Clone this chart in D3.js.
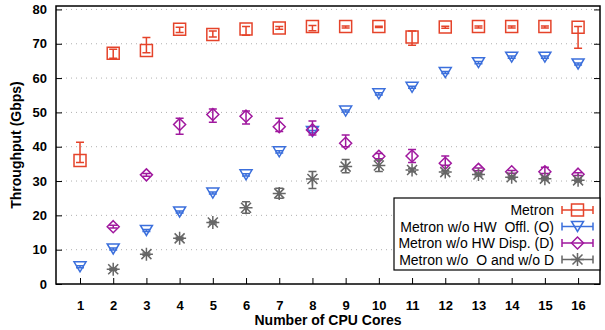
<!DOCTYPE html>
<html>
<head>
<meta charset="utf-8">
<script src="https://cdn.jsdelivr.net/npm/d3@7"></script>
<style>
  html, body { margin: 0; padding: 0; background: #fff; }
  svg { display: block; font-family: "Liberation Sans", Arial, Helvetica, sans-serif; }
  text { white-space: pre; }
</style>
</head>
<body>
<svg id="chart" width="605" height="330"></svg>
<script>
const cores = [1, 2, 3, 4, 5, 6, 7, 8, 9, 10, 11, 12, 13, 14, 15, 16];
const yTicks = [0, 10, 20, 30, 40, 50, 60, 70, 80];

const metron     = [36.0, 67.2, 68.0, 74.2, 72.7, 74.3, 74.6, 75.0, 75.0, 75.0, 72.0, 74.9, 75.0, 75.0, 75.0, 74.8];
const metronLow  = [35.4, 65.8, 67.4, 73.3, 72.0, 72.5, 74.2, 73.8, 74.6, 74.7, 69.6, 74.5, 74.6, 74.6, 74.6, 68.7];
const metronHigh = [41.3, 68.4, 71.8, 74.8, 73.7, 75.0, 75.0, 75.3, 75.2, 75.1, 73.7, 75.1, 75.2, 75.2, 75.2, 75.0];

const offl     = [5.0, 10.2, 15.6, 21.0, 26.5, 31.8, 38.5, 44.4, 50.4, 55.4, 57.3, 61.6, 64.5, 66.1, 66.1, 64.1];
const offlLow  = [4.7, 9.9, 15.3, 20.7, 26.2, 31.5, 38.2, 44.1, 50.1, 55.1, 57.0, 61.3, 64.2, 65.8, 65.8, 63.8];
const offlHigh = [5.3, 10.5, 15.9, 21.3, 26.8, 32.1, 38.8, 44.7, 50.7, 55.7, 57.6, 61.9, 64.8, 66.4, 66.4, 64.4];

const disp     = [null, 16.7, 31.8, 46.5, 49.4, 48.9, 45.8, 44.9, 41.0, 37.2, 37.3, 35.2, 33.4, 32.7, 32.7, 32.0];
const dispLow  = [null, 16.3, 31.4, 43.6, 47.1, 46.6, 44.4, 43.4, 40.0, 36.5, 35.4, 34.6, 33.0, 32.3, 32.2, 31.6];
const dispHigh = [null, 17.1, 32.2, 48.3, 51.0, 50.4, 48.3, 47.5, 43.4, 38.0, 39.2, 37.3, 33.8, 33.1, 34.0, 32.4];

const both     = [null, 4.3, 8.7, 13.3, 17.9, 22.2, 26.4, 30.6, 34.2, 34.5, 33.2, 32.6, 31.9, 31.1, 30.7, 30.2];
const bothLow  = [null, 4.0, 8.4, 13.0, 17.5, 20.6, 25.0, 27.8, 32.4, 32.8, 32.7, 32.2, 31.5, 30.7, 30.3, 29.8];
const bothHigh = [null, 4.6, 9.0, 13.6, 18.3, 24.0, 27.9, 32.8, 36.3, 36.1, 33.7, 33.0, 32.3, 31.5, 31.1, 30.6];

const seriesNames = ["Metron", "Metron w/o HW  Offl. (O)", "Metron w/o HW Disp. (D)", "Metron w/o  O and w/o D"];
const seriesColors = ["#e5432a", "#3b6fdc", "#a0189e", "#666666"];
const seriesMarkers = ["square", "tri", "diamond", "star"];

const series = [
  {name: seriesNames[0], color: seriesColors[0], marker: seriesMarkers[0], v: metron, lo: metronLow, hi: metronHigh},
  {name: seriesNames[1], color: seriesColors[1], marker: seriesMarkers[1], v: offl, lo: offlLow, hi: offlHigh},
  {name: seriesNames[2], color: seriesColors[2], marker: seriesMarkers[2], v: disp, lo: dispLow, hi: dispHigh},
  {name: seriesNames[3], color: seriesColors[3], marker: seriesMarkers[3], v: both, lo: bothLow, hi: bothHigh}
];

const L = 56, R = 600, T = 6, B = 284;
const svg = d3.select("#chart");

const x = d3.scaleLinear().domain([0.277, 16.66]).range([L, R]);
const y = d3.scaleLinear().domain([0, 81]).range([B, T]);

// grid
svg.append("g").selectAll("line").data(yTicks.filter(d => d > 0)).join("line")
  .attr("x1", L).attr("x2", R)
  .attr("y1", d => y(d)).attr("y2", d => y(d))
  .attr("stroke", "#b0b0b0").attr("stroke-width", 1)
  .attr("stroke-dasharray", "1,4");

// axes
const yAxisL = d3.axisLeft(y).tickValues(yTicks).tickSize(-6).tickPadding(9);
const gL = svg.append("g").attr("transform", `translate(${L},0)`).call(yAxisL);
const yAxisR = d3.axisRight(y).tickValues(yTicks).tickSize(-6).tickFormat("");
const gR = svg.append("g").attr("transform", `translate(${R},0)`).call(yAxisR);
const xAxis = d3.axisBottom(x).tickValues(cores).tickSize(-6).tickPadding(17);
const gB = svg.append("g").attr("transform", `translate(0,${B})`).call(xAxis);
[gL, gR, gB].forEach(g => {
  g.select(".domain").remove();
  g.selectAll(".tick line").attr("stroke", "#000").attr("stroke-width", 1);
  g.selectAll(".tick text").attr("font-size", 13).attr("font-weight", "bold")
    .attr("fill", "#000").attr("font-family", "Liberation Sans, Arial, sans-serif");
});

// frame
svg.append("rect").attr("x", L).attr("y", T).attr("width", R - L).attr("height", B - T)
  .attr("fill", "none").attr("stroke", "#000").attr("stroke-width", 1.5);

function markerPath(type, cx, cy) {
  const p = d3.path();
  if (type === "square") {
    p.rect(cx - 6, cy - 6, 12, 12);
  } else if (type === "tri") {
    p.moveTo(cx - 6, cy - 5); p.lineTo(cx + 6, cy - 5); p.lineTo(cx, cy + 5); p.closePath();
  } else if (type === "diamond") {
    p.moveTo(cx, cy - 6); p.lineTo(cx + 6, cy); p.lineTo(cx, cy + 6); p.lineTo(cx - 6, cy); p.closePath();
  } else {
    p.moveTo(cx - 6.5, cy); p.lineTo(cx + 6.5, cy);
    p.moveTo(cx, cy - 6.5); p.lineTo(cx, cy + 6.5);
    p.moveTo(cx - 5, cy - 5); p.lineTo(cx + 5, cy + 5);
    p.moveTo(cx - 5, cy + 5); p.lineTo(cx + 5, cy - 5);
  }
  return p.toString();
}

const plot = svg.append("g");
series.forEach(s => {
  const pts = cores.map((c, i) => ({c, v: s.v[i], lo: s.lo[i], hi: s.hi[i]})).filter(d => d.v !== null);
  const g = plot.append("g").attr("stroke", s.color).attr("fill", "none").attr("stroke-width", 1.5);
  // error bars
  g.selectAll("path.err").data(pts).join("path").attr("class", "err")
    .attr("d", d => {
      const p = d3.path();
      const cx = x(d.c), y1 = y(d.hi), y2 = y(d.lo);
      p.moveTo(cx, y1); p.lineTo(cx, y2);
      p.moveTo(cx - 4, y1); p.lineTo(cx + 4, y1);
      p.moveTo(cx - 4, y2); p.lineTo(cx + 4, y2);
      return p.toString();
    });
  g.selectAll("path.mk").data(pts).join("path").attr("class", "mk")
    .attr("d", d => markerPath(s.marker, x(d.c), y(d.v)));
});

// legend
const lg = svg.append("g");
lg.append("rect").attr("x", 394).attr("y", 198).attr("width", 206).attr("height", 72)
  .attr("fill", "#fff").attr("stroke", "#000").attr("stroke-width", 1.2);
series.forEach((s, i) => {
  const ry = 210 + i * 16.5;
  lg.append("text").attr("x", 554).attr("y", ry + 5).attr("text-anchor", "end")
    .attr("font-size", 14).attr("fill", "#000").text(s.name);
  const g = lg.append("g").attr("stroke", s.color).attr("fill", "none").attr("stroke-width", 1.5);
  g.append("path").attr("d", () => {
    const p = d3.path();
    p.moveTo(562, ry); p.lineTo(593, ry);
    p.moveTo(562, ry - 4); p.lineTo(562, ry + 4);
    p.moveTo(593, ry - 4); p.lineTo(593, ry + 4);
    return p.toString();
  });
  g.append("path").attr("d", markerPath(s.marker, 577.5, ry));
});

// axis titles
svg.append("text").attr("x", 328).attr("y", 325).attr("text-anchor", "middle")
  .attr("font-size", 14).attr("font-weight", "bold").text("Number of CPU Cores");
svg.append("text").attr("transform", "translate(21,145) rotate(-90)").attr("text-anchor", "middle")
  .attr("font-size", 14).attr("font-weight", "bold").text("Throughput (Gbps)");
</script>
</body>
</html>
